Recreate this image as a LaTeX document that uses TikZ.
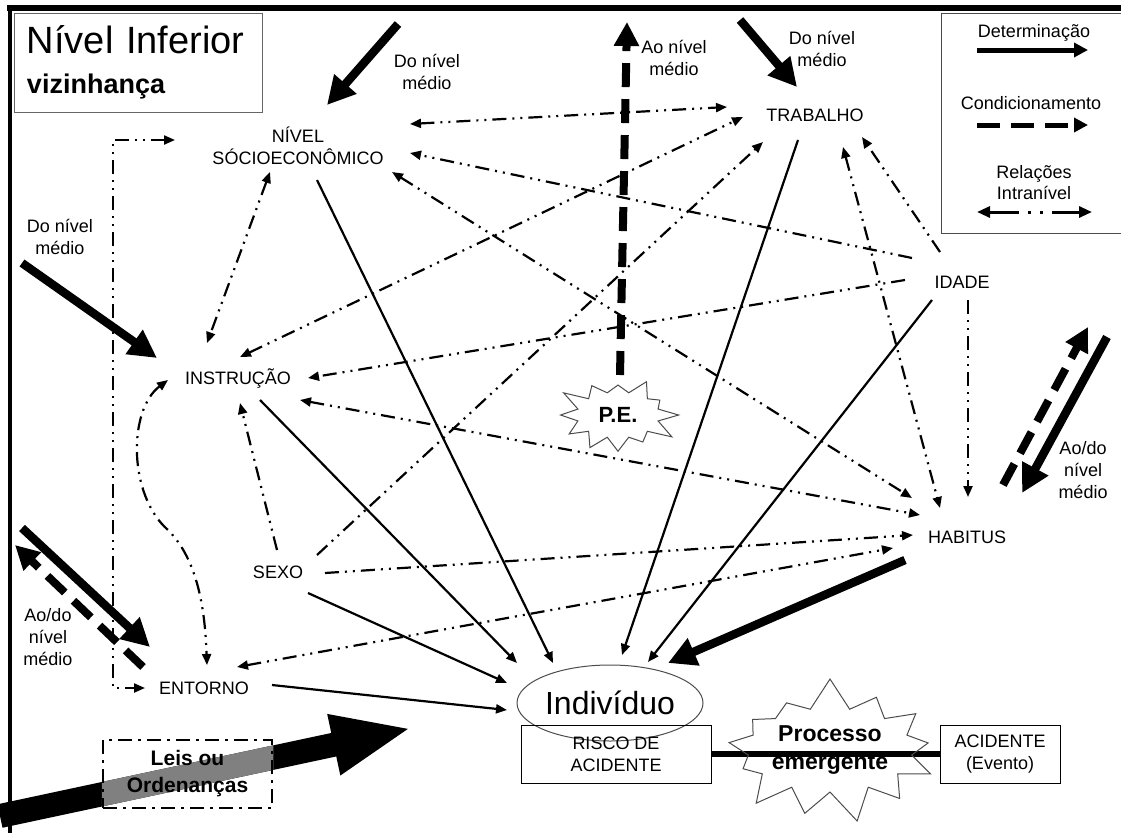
\documentclass[tikz,border=0pt]{standalone}
\usepackage{fontspec}
\setmainfont{Liberation Sans}
\usetikzlibrary{arrows.meta,calc,backgrounds,shapes.geometric,shapes.symbols}
\tikzset{
  lbl/.style={font=\fontsize{18}{22}\selectfont, align=center, inner sep=1pt},
  lgd/.style={font=\fontsize{18}{21}\selectfont, align=center, inner sep=1pt},
  det/.style={line width=2.2pt, -{Triangle[length=11pt,width=9pt]}},
  rel/.style={line width=2.2pt,
      dash pattern=on 14pt off 6pt on 2pt off 6pt on 2pt off 6pt,
      -{Triangle[length=11pt,width=9pt]}},
  relboth/.style={rel, {Triangle[length=11pt,width=9pt]}-{Triangle[length=11pt,width=9pt]}},
  bigdet/.style={line width=8.5pt, -{Triangle[length=28pt,width=28pt]}},
  bigcond/.style={line width=8pt, dash pattern=on 24pt off 12pt,
      -{Triangle[length=24pt,width=24pt]}},
  burst/.style={starburst, draw=black!70, line width=1pt, fill=white, inner sep=0pt}
}
\begin{document}
\begin{tikzpicture}[x=1pt,y=-1pt]
  \useasboundingbox (0,0) rectangle (1121,833);
  % frame
  \draw[line width=6pt] (7,8) -- (1121,8);
  \draw[line width=4pt] (10,5) -- (10,833);

  % title and legend
  \node[draw=black!60, line width=1pt, minimum width=248pt, minimum height=99pt,
        text width=222pt, align=left, inner sep=0pt,
        font=\fontsize{38}{44}\selectfont] (title) at (138,62.5)
       {Nível Inferior\\[-4pt]{\bfseries\fontsize{27}{30}\selectfont vizinhança}};
  \draw[line width=1pt, black!70] (1121,13) -- (941,13) -- (941,233) -- (1121,233);
  \node[lgd] (ldet) at (1034,33) {Determinação};
  \node[lgd] (lcond) at (1031,103) {Condicionamento};
  \node[lgd] (lrel) at (1034,183) {Relações\\Intranível};
  \draw[line width=5pt, -{Triangle[length=14pt,width=14pt]}]
       ($(ldet)+(-57,17)$) -- ($(ldet)+(54,17)$);
  \draw[line width=5pt, dash pattern=on 23pt off 11pt, -{Triangle[length=14pt,width=14pt]}]
       ($(lcond)+(-54,22)$) -- ($(lcond)+(57,22)$);
  \draw[line width=3pt, dash pattern=on 30pt off 9pt on 3pt off 9pt on 3pt off 9pt,
        {Triangle[length=13pt,width=11pt]}-{Triangle[length=13pt,width=11pt]}]
       ($(lrel)+(-57,29)$) -- ($(lrel)+(58,29)$);

  % factors
  \node[lbl] (nse) at (298,146) {NÍVEL\\SÓCIOECONÔMICO};
  \node[lbl] (trab) at (815,115) {TRABALHO};
  \node[lbl] (idade) at (962,282) {IDADE};
  \node[lbl] (instr) at (238,378) {INSTRUÇÃO};
  \node[lbl] (sexo) at (278,572) {SEXO};
  \node[lbl] (entorno) at (204,688) {ENTORNO};
  \node[lbl] (habitus) at (967,537) {HABITUS};
  \node[draw=black!70, line width=1pt, ellipse, minimum width=186pt, minimum height=76pt,
        inner sep=0pt, font=\fontsize{32}{36}\selectfont] (indiv) at (610,703) {Indivíduo};
  \node[lbl, draw, line width=1pt, minimum width=190pt, minimum height=58pt] (risco)
       at (616,754) {RISCO DE\\ACIDENTE};
  \node[lbl, draw, line width=1pt, minimum width=120pt, minimum height=58pt] (acid)
       at (1000,754) {ACIDENTE\\(Evento)};
  \draw[line width=6pt] (risco.east) -- (acid.west);
  \node[burst, fill=none, starburst points=13, starburst point height=32pt, random starburst=7,
        minimum width=206pt, minimum height=148pt, align=center,
        font=\bfseries\fontsize{23}{28}\selectfont] (proc) at (830,750) {Processo\\emergente};

  % intranivel relations
  \draw[relboth] ($(nse)+(112,-22)$) -- ($(trab)+(-88,-8)$);
  \draw[rel] ($(idade)+(-50,-24)$) -- ($(nse)+(112,7)$);
  \draw[relboth] ($(nse)+(94,26)$) -- ($(habitus)+(-55,-39)$);
  \draw[relboth] ($(nse)+(-28,26)$) -- ($(instr)+(-31,-35)$);
  \draw[relboth] ($(instr)+(2,-21)$) -- ($(trab)+(-72,2)$);
  \draw[rel] ($(sexo)+(39,-17)$) -- ($(trab)+(-52,27)$);
  \draw[rel] ($(idade)+(-22,-30)$) -- ($(trab)+(47,22)$);
  \draw[relboth] ($(trab)+(28,32)$) -- ($(habitus)+(-27,-29)$);
  \draw[rel] ($(idade)+(6,18)$) -- ($(habitus)+(1,-40)$);
  \draw[rel] ($(idade)+(-57,-2)$) -- ($(instr)+(70,0)$);
  \draw[relboth] ($(instr)+(62,22)$) -- ($(habitus)+(-47,-22)$);
  \draw[rel] ($(sexo)+(47,1)$) -- ($(habitus)+(-54,-2)$);
  \draw[relboth] ($(entorno)+(33,-21)$) -- ($(habitus)+(-74,11)$);
  \draw[rel] ($(sexo)+(-1,-22)$) -- ($(instr)+(2,25)$);
  \draw[relboth] ($(instr)+(-70,2)$) .. controls (128,410) and (128,495) .. (168,530)
       .. controls (198,560) and (205,610) .. ($(entorno)+(3,-23)$);
  \draw[relboth] ($(nse)+(-123,-6)$) -| (113,400) |- ($(entorno)+(-59,0)$);

  % determination
  \draw[det] ($(nse)+(19,34)$) -- ($(indiv)+(-57,-40)$);
  \draw[det] ($(trab)+(-17,25)$) -- ($(indiv)+(12,-48)$);
  \draw[det] ($(idade)+(-30,18)$) -- ($(indiv)+(38,-41)$);
  \draw[det] ($(instr)+(22,22)$) -- ($(indiv)+(-93,-40)$);
  \draw[det] ($(sexo)+(30,21)$) -- ($(indiv)+(-103,-20)$);
  \draw[det] ($(entorno)+(68,-3)$) -- ($(indiv)+(-103,7)$);
  \draw[bigdet] ($(habitus)+(-62,23)$) -- ($(indiv)+(58,-40)$);

  % emergent property
  \node[burst, starburst points=12, starburst point height=22pt, random starburst=3,
        minimum width=127pt, minimum height=90pt,
        font=\bfseries\fontsize{22}{26}\selectfont] (pe) at (618,415) {P.E.};
  \coordinate (peUp) at (627,22);
  \draw[bigcond] ($(pe)+(2,-40)$) -- (peUp);
  \node[lbl] (aoPE) at (674,58) {Ao nível\\médio};

  % from / to the middle level
  \coordinate (inNse) at (398,24);
  \draw[bigdet] (inNse) -- ($(nse)+(29,-41)$);
  \node[lbl] (dnNse) at (427,72) {Do nível\\médio};
  \coordinate (inTrab) at (740,20);
  \draw[bigdet] (inTrab) -- ($(trab)+(-18,-28)$);
  \node[lbl] (dnTrab) at (822,49) {Do nível\\médio};
  \coordinate (inInstr) at (22,263);
  \draw[bigdet] (inInstr) -- ($(instr)+(-81,-20)$);
  \node[lbl] (dnInstr) at (60,237) {Do nível\\médio};
  \coordinate (inEnt) at (22,528);
  \draw[bigdet] (inEnt) -- ($(entorno)+(-54,-41)$);
  \coordinate (outEnt) at (15,545);
  \draw[bigcond] ($(entorno)+(-61,-21)$) -- (outEnt);
  \node[lbl] (aoEnt) at (48,637) {Ao/do\\nível\\médio};
  \coordinate (inHab) at (1107,337);
  \draw[bigdet] (inHab) -- ($(habitus)+(55,-44)$);
  \coordinate (outHab) at (1088,327);
  \draw[bigcond] ($(habitus)+(36,-52)$) -- (outHab);
  \node[lbl] (aoHab) at (1083,470) {Ao/do\\nível\\médio};

  % laws
  \node[draw, line width=2.5pt, dash pattern=on 14pt off 6pt on 3pt off 6pt,
        minimum width=169pt, minimum height=68pt, align=center,
        font=\bfseries\fontsize{21}{27}\selectfont] (leis) at (187.5,774) {Leis ou\\Ordenanças};
  \coordinate (leisA) at (0,816);
  \coordinate (leisB) at (412,728);
  \begin{scope}[on background layer]
    \draw[line width=24pt, -{Triangle[length=80pt,width=56pt]}] (leisA) -- (leisB);
    \clip (leis.south west) rectangle (leis.north east);
    \draw[line width=24pt, black!50] (leisA) -- (leisB);
  \end{scope}
\end{tikzpicture}
\end{document}
